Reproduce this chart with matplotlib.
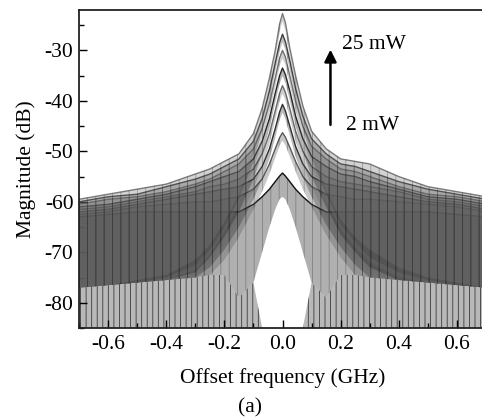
import matplotlib
matplotlib.use("Agg")
import matplotlib.pyplot as plt
import numpy as np

plt.rcParams['font.family'] = ['Liberation Serif', 'DejaVu Serif']
plt.rcParams['axes.unicode_minus'] = False
plt.rcParams['hatch.linewidth'] = 0.6

freq = [-0.70, -0.60, -0.50, -0.40, -0.30, -0.25, -0.20, -0.15, -0.10, -0.07, -0.045, -0.025, -0.01, 0.00,
        0.01, 0.025, 0.045, 0.07, 0.10, 0.15, 0.20, 0.25, 0.30, 0.40, 0.50, 0.60, 0.70]

# Upper edge of each trace (dB), from 2 mW (lowest) to 25 mW (highest)
upper_2mW  = [-63.0, -62.5, -62.0, -62.0, -62.0, -62.0, -62.0, -62.0, -60.5, -59.0, -57.5, -56.0, -54.9, -54.3, -54.9, -56.0, -57.5, -59.0, -60.5, -62.0, -62.0, -62.0, -62.0, -62.0, -62.0, -62.5, -63.0]
upper_t2   = [-62.5, -62.0, -61.0, -60.5, -60.0, -60.0, -59.5, -59.0, -57.5, -55.5, -52.5, -49.5, -47.3, -46.3, -47.2, -49.2, -52.0, -55.0, -57.0, -58.5, -59.0, -59.5, -59.5, -60.0, -60.5, -61.0, -62.0]
upper_t3   = [-62.0, -61.5, -60.5, -59.5, -58.5, -58.0, -57.5, -57.0, -55.5, -53.0, -49.5, -45.5, -42.2, -40.7, -42.0, -45.0, -49.0, -52.5, -55.0, -56.5, -57.0, -57.5, -58.0, -59.0, -60.0, -60.5, -61.5]
upper_t4   = [-61.5, -61.0, -60.0, -59.0, -58.0, -57.0, -56.5, -55.5, -53.5, -50.5, -46.5, -42.0, -38.5, -37.0, -38.3, -41.5, -46.0, -50.0, -53.0, -55.0, -56.0, -56.5, -57.0, -58.0, -59.5, -60.0, -61.0]
upper_t5   = [-61.0, -60.5, -59.5, -58.5, -57.0, -56.0, -55.0, -54.0, -51.5, -48.0, -43.5, -38.5, -35.0, -33.5, -34.8, -38.0, -43.0, -47.5, -51.0, -53.0, -54.5, -55.0, -56.0, -57.5, -59.0, -59.5, -60.5]
upper_t6   = [-60.5, -59.5, -59.0, -58.0, -56.5, -55.5, -54.0, -52.5, -49.5, -45.5, -40.5, -35.5, -31.5, -30.0, -31.3, -35.0, -40.0, -45.0, -49.0, -51.5, -53.5, -54.0, -55.0, -57.0, -58.5, -59.0, -60.0]
upper_t7   = [-60.0, -59.0, -58.5, -57.0, -55.5, -54.5, -53.0, -51.5, -48.0, -43.5, -38.0, -32.5, -28.5, -26.8, -28.3, -32.0, -37.5, -43.0, -47.5, -50.5, -52.5, -53.0, -54.0, -56.0, -57.5, -58.5, -59.5]
upper_25mW = [-59.5, -58.5, -57.5, -56.5, -54.5, -53.5, -52.0, -50.5, -46.5, -41.5, -35.5, -30.0, -24.8, -22.7, -24.5, -29.5, -35.0, -41.0, -46.0, -49.5, -51.5, -52.0, -52.5, -55.0, -57.0, -58.0, -59.0]

# Depth of the dense noise band below each trace's upper edge (dB) and the
# level where the dense band ends in the wings (dB)
band_depth  = [18, 18, 18, 18, 17, 15, 12, 8, 4, 2.5, 2.0, 1.8, 1.6, 1.6, 1.6, 1.8, 2.0, 2.5, 4, 8, 12, 15, 17, 18, 18, 18, 18]
dense_floor = [-77.0, -76.5, -76.0, -75.5, -75.0, -74.5, -74.5, -75.0, -76.0, -76.0, -76.0, -76.0, -76.0, -76.0,
               -76.0, -76.0, -76.0, -76.0, -76.0, -75.0, -74.5, -74.5, -75.0, -75.5, -76.0, -76.5, -77.0]
# Lower edge of the lowest (2 mW) trace, which bounds the empty region under the peak
lower_2mW   = [-77.0, -76.5, -76.0, -75.5, -75.0, -74.5, -74.5, -79.0, -76.0, -70.0, -65.0, -61.5, -59.5, -59.0,
               -59.5, -61.5, -65.0, -70.0, -76.0, -79.0, -74.5, -74.5, -75.0, -75.5, -76.0, -76.5, -77.0]
# Upper edge of the sparse downward noise spikes (they reach the -85 dB axis floor)
spike_top = [-77.0, -76.5, -76.0, -75.5, -75.0, -74.5, -74.5, -79.0, -76.0, -85.0, -85.0, -85.0, -85.0, -85.0,
             -85.0, -85.0, -85.0, -85.0, -76.0, -79.0, -74.5, -74.5, -75.0, -75.5, -76.0, -76.5, -77.0]
axis_floor = -85.0

uppers = [upper_2mW, upper_t2, upper_t3, upper_t4, upper_t5, upper_t6, upper_t7, upper_25mW]
lowers = [lower_2mW] + [np.maximum(np.array(u) - np.array(band_depth), np.array(dense_floor)) for u in uppers[1:]]
colors = ['#101010', '#5a5a5a', '#2e2e2e', '#6a6a6a', '#262626', '#707070', '#404040', '#7a7a7a']

fig = plt.figure(figsize=(4.82, 4.19), dpi=100)
ax = fig.add_axes([79/482, 1 - 328/419, (486 - 79)/482, (328 - 10)/419])

# sparse spikes zone
ax.fill_between(freq, spike_top, axis_floor, facecolor='#b8b8b8', edgecolor='#3a3a3a',
                hatch='|||', linewidth=0, zorder=1)

for up, lo, c in zip(uppers, lowers, colors):
    ax.plot(freq, up, color=c, lw=1.0, zorder=1.5)
    ax.fill_between(freq, lo, up, facecolor=c, alpha=0.33, edgecolor='#202020', hatch='||',
                    linewidth=0, zorder=2)

ax.set_xlim(-0.7, 0.7)
ax.set_ylim(-85, -22)
ax.set_xticks([-0.6, -0.4, -0.2, 0.0, 0.2, 0.4, 0.6])
ax.set_xticks(np.arange(-0.7, 0.71, 0.1), minor=True)
ax.set_yticks([-80, -70, -60, -50, -40, -30])
ax.set_yticks([-85, -75, -65, -55, -45, -35, -25], minor=True)
ax.xaxis.set_major_formatter(matplotlib.ticker.FormatStrFormatter('%.1f'))
ax.tick_params(which='both', direction='in', labelsize=15.5, width=1.0)
ax.tick_params(which='major', length=6, pad=5)
ax.tick_params(which='minor', length=3.5)
ax.tick_params(axis='y', pad=4)
ax.tick_params(top=False, right=False, which='both')
for s in ax.spines.values():
    s.set_linewidth(1.3)
    s.set_color('#222222')

ax.set_xlabel('Offset frequency (GHz)', fontsize=15.5, labelpad=10)
ax.set_ylabel('Magnitude (dB)', fontsize=15.5, labelpad=6)

ax.annotate('', xy=(0.165, -29.3), xytext=(0.165, -45.3),
            arrowprops=dict(arrowstyle='-|>', color='black', lw=1.8, mutation_scale=18))
ax.text(0.205, -28.8, '25 mW', fontsize=15.5, va='center', ha='left')
ax.text(0.22, -44.8, '2 mW', fontsize=15.5, va='center', ha='left')

fig.text(250/482, 1 - 408/419, '(a)', fontsize=15.5, ha='center', va='center')

fig.savefig('out.png', dpi=100)
